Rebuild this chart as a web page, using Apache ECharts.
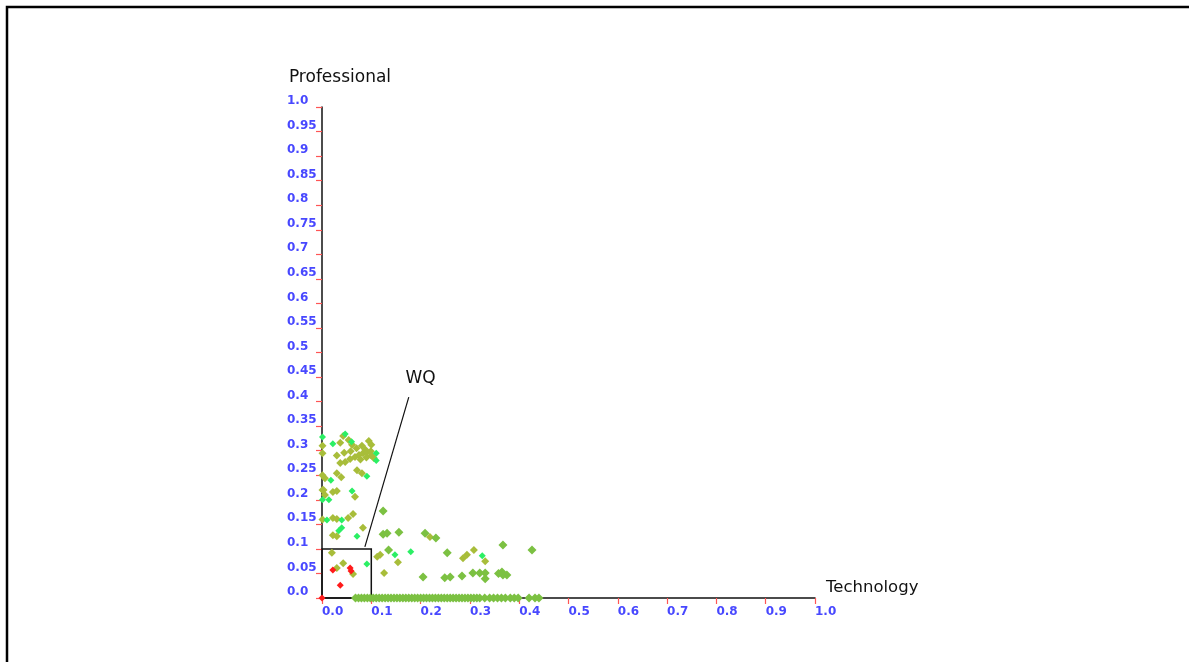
<!DOCTYPE html>
<html>
<head>
<meta charset="utf-8">
<script src="https://cdn.jsdelivr.net/npm/echarts@6/dist/echarts.min.js"></script>
<style>
  html, body { margin: 0; padding: 0; background: #ffffff; }
  #chart { width: 1189px; height: 662px; }
</style>
</head>
<body>
<div id="chart"></div>
<script>
// Axis titles and tick labels
const xAxisTitle = 'Technology';
const yAxisTitle = 'Professional';
const xTickLabels = ['0.0', '0.1', '0.2', '0.3', '0.4', '0.5', '0.6', '0.7', '0.8', '0.9', '1.0'];
const yTickLabels = ['0.0', '0.05', '0.1', '0.15', '0.2', '0.25', '0.3', '0.35', '0.4', '0.45', '0.5',
  '0.55', '0.6', '0.65', '0.7', '0.75', '0.8', '0.85', '0.9', '0.95', '1.0'];

// Highlighted region [x0, y0, x1, y1], its leader line and caption
const wqBox = [0, 0, 0.1, 0.1];
const wqLeader = [[0.087, 0.104], [0.176, 0.409]];
const wqLabelPos = [0.2, 0.447];
const wqLabel = 'WQ';

// Points as [technology, professional]
const redPoints = [
  [0, 0], [0.022, 0.057], [0.057, 0.061], [0.059, 0.055], [0.037, 0.026]
];

const brightPoints = [
  [0.001, 0.328], [0.047, 0.334], [0.022, 0.314], [0.06, 0.318], [0.11, 0.295], [0.11, 0.28],
  [0.091, 0.248], [0.018, 0.24], [0.014, 0.2], [0.061, 0.218], [0.01, 0.159], [0.04, 0.159],
  [0.04, 0.143], [0.034, 0.137], [0.071, 0.126], [0.18, 0.094], [0.148, 0.088], [0.091, 0.069],
  [0.325, 0.086], [0.001, 0.2]
];

const olivePoints = [
  [0.043, 0.33], [0.037, 0.316], [0.061, 0.312], [0.081, 0.31], [0.095, 0.32], [0.001, 0.31],
  [0.001, 0.295], [0.07, 0.305], [0.088, 0.302], [0.054, 0.322], [0.1, 0.312],
  [0.037, 0.275], [0.047, 0.277], [0.057, 0.283], [0.067, 0.287], [0.075, 0.291],
  [0.083, 0.295], [0.091, 0.297], [0.099, 0.299], [0.105, 0.285],
  [0.03, 0.29], [0.045, 0.296], [0.058, 0.299], [0.078, 0.282], [0.09, 0.286], [0.1, 0.29],
  [0.071, 0.26], [0.081, 0.254], [0.03, 0.254], [0.039, 0.246], [0.006, 0.244],
  [0.003, 0.22], [0.006, 0.21], [0.022, 0.216], [0.03, 0.218], [0.067, 0.206],
  [0.022, 0.163], [0.03, 0.161], [0.053, 0.163], [0.063, 0.171], [0.083, 0.143],
  [0.022, 0.128], [0.03, 0.126], [0.02, 0.092], [0.043, 0.071], [0.03, 0.061],
  [0.063, 0.049], [0.126, 0.051], [0.112, 0.084], [0.118, 0.088], [0.154, 0.073],
  [0.286, 0.081], [0.294, 0.088], [0.308, 0.098], [0.331, 0.075], [0.219, 0.124],
  [0.001, 0.25], [0.001, 0.16], [0.001, 0.22]
];

const greenPoints = [
  [0.124, 0.177], [0.124, 0.13], [0.132, 0.132], [0.156, 0.134], [0.209, 0.132], [0.231, 0.122],
  [0.135, 0.098], [0.254, 0.092], [0.367, 0.108], [0.426, 0.098],
  [0.205, 0.043], [0.249, 0.041], [0.26, 0.043], [0.284, 0.045], [0.306, 0.051], [0.32, 0.051],
  [0.331, 0.051], [0.331, 0.039], [0.365, 0.053], [0.375, 0.047], [0.367, 0.047], [0.358, 0.05],
  [0.068, 0], [0.074, 0], [0.08, 0], [0.086, 0], [0.092, 0], [0.098, 0], [0.104, 0], [0.11, 0],
  [0.116, 0], [0.122, 0], [0.128, 0], [0.134, 0], [0.14, 0], [0.146, 0], [0.152, 0], [0.158, 0],
  [0.164, 0], [0.17, 0], [0.176, 0], [0.182, 0], [0.188, 0], [0.194, 0], [0.2, 0], [0.206, 0],
  [0.212, 0], [0.218, 0], [0.224, 0], [0.23, 0], [0.236, 0], [0.242, 0], [0.248, 0], [0.254, 0],
  [0.26, 0], [0.266, 0], [0.272, 0], [0.278, 0], [0.284, 0], [0.29, 0], [0.296, 0], [0.302, 0],
  [0.308, 0], [0.314, 0], [0.32, 0], [0.33, 0], [0.34, 0], [0.348, 0], [0.356, 0], [0.364, 0],
  [0.372, 0], [0.382, 0], [0.39, 0], [0.398, 0], [0.42, 0], [0.432, 0], [0.44, 0]
];

const labelBlue = '#4848ff';
const tickRed = '#ff5555';
const baseFont = 'DejaVu Sans';

const chart = echarts.init(document.getElementById('chart'), null, { renderer: 'canvas' });

function scatter(name, data, color, size, extra) {
  return Object.assign({
    name: name,
    type: 'scatter',
    data: data,
    symbol: 'diamond',
    symbolSize: size,
    clip: false,
    itemStyle: { color: color, opacity: 1 },
    emphasis: { disabled: true }
  }, extra || {});
}

chart.setOption({
  animation: false,
  backgroundColor: '#ffffff',
  grid: { left: 322, top: 107, width: 493, height: 491, containLabel: false },
  xAxis: {
    type: 'value', min: 0, max: 1, interval: 0.1,
    name: xAxisTitle, nameLocation: 'end', nameGap: 11,
    nameTextStyle: { color: '#111', fontFamily: baseFont, fontSize: 16.5, align: 'left', verticalAlign: 'bottom', padding: [0, 0, 2, 0] },
    axisLine: { show: true, onZero: false, lineStyle: { color: '#111', width: 1.5 } },
    axisTick: { show: true, inside: false, length: 6, lineStyle: { color: tickRed, width: 1.2 } },
    axisLabel: {
      show: true, margin: 8, color: labelBlue, fontFamily: baseFont, fontSize: 12, fontWeight: 'bold',
      align: 'left', verticalAlign: 'top',
      formatter: (v) => xTickLabels[Math.round(v * 10)]
    },
    splitLine: { show: false }
  },
  yAxis: {
    type: 'value', min: 0, max: 1, interval: 0.05,
    name: yAxisTitle, nameLocation: 'end', nameGap: 21,
    nameTextStyle: { color: '#111', fontFamily: baseFont, fontSize: 17, align: 'center', padding: [0, 0, 0, 36] },
    axisLine: { show: true, onZero: false, lineStyle: { color: '#111', width: 1.5 } },
    axisTick: { show: true, inside: false, length: 6, lineStyle: { color: tickRed, width: 1.2 } },
    axisLabel: {
      show: true, margin: 35, color: labelBlue, fontFamily: baseFont, fontSize: 12, fontWeight: 'bold',
      align: 'left', verticalAlign: 'bottom', lineHeight: 12,
      formatter: (v) => yTickLabels[Math.round(v * 20)]
    },
    splitLine: { show: false }
  },
  graphic: [{
    type: 'rect',
    shape: { x: 7, y: 7, width: 1400, height: 900 },
    style: { fill: 'none', stroke: '#000', lineWidth: 2.5 },
    silent: true
  }],
  series: [
    scatter('olive', olivePoints, '#a8bd3a', 8),
    scatter('green', greenPoints, '#7cc142', 9),
    scatter('bright', brightPoints, '#2bef64', 7),
    scatter('red', redPoints, '#ff1a1a', 7, {
      z: 5,
      markArea: {
        silent: true,
        itemStyle: { color: 'rgba(0,0,0,0)', borderColor: '#111', borderWidth: 1.5 },
        data: [[{ coord: [wqBox[0], wqBox[1]] }, { coord: [wqBox[2], wqBox[3]] }]]
      },
      markLine: {
        silent: true,
        symbol: 'none',
        label: { show: false },
        lineStyle: { color: '#111', width: 1.2, type: 'solid' },
        data: [[{ coord: wqLeader[0] }, { coord: wqLeader[1] }]]
      },
      markPoint: {
        silent: true,
        symbol: 'circle', symbolSize: 0,
        label: { show: true, formatter: wqLabel, color: '#111', fontFamily: baseFont, fontSize: 17, position: 'inside' },
        data: [{ coord: wqLabelPos }]
      }
    })
  ]
});
</script>
</body>
</html>
